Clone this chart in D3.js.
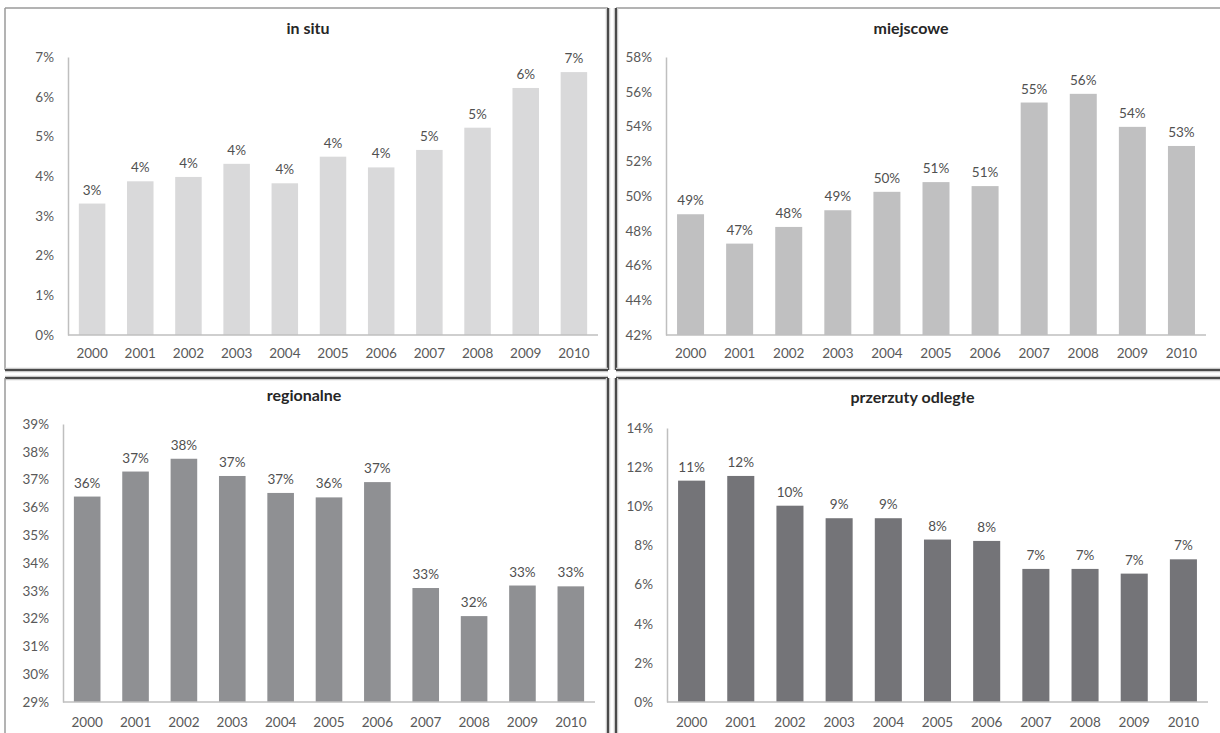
<!DOCTYPE html>
<html>
<head>
<meta charset="utf-8">
<script src="https://cdn.jsdelivr.net/npm/d3@7"></script>
<style>
  body { margin: 0; background: #fff; }
  svg { display: block; font-family: Lato, "Open Sans", sans-serif; }
</style>
</head>
<body>
<div id="chart"></div>
<script>
// lata i wartości (w %)
const years = ['2000', '2001', '2002', '2003', '2004', '2005', '2006', '2007', '2008', '2009', '2010'];
const inSitu = [3.31, 3.87, 3.98, 4.31, 3.82, 4.49, 4.22, 4.66, 5.22, 6.22, 6.62];
const miejscowe = [48.95, 47.26, 48.22, 49.18, 50.24, 50.80, 50.57, 55.38, 55.88, 53.98, 52.88];
const regionalne = [36.39, 37.29, 37.75, 37.13, 36.52, 36.36, 36.91, 33.10, 32.09, 33.19, 33.16];
const przerzuty = [11.31, 11.55, 10.03, 9.39, 9.39, 8.30, 8.23, 6.80, 6.80, 6.56, 7.29];

const ticksInSitu = [0, 1, 2, 3, 4, 5, 6, 7];
const ticksMiejscowe = [42, 44, 46, 48, 50, 52, 54, 56, 58];
const ticksRegionalne = [29, 30, 31, 32, 33, 34, 35, 36, 37, 38, 39];
const ticksPrzerzuty = [0, 2, 4, 6, 8, 10, 12, 14];

const W = 1220, H = 733;

const svg = d3.select('#chart')
    .append('svg')
    .attr('width', W)
    .attr('height', H);

// każdy panel: ramka, obszar wykresu (względem ramki)
const panels = [
    { title: 'in situ', values: inSitu, ticks: ticksInSitu, color: '#d9d9da', outTop: true, outLeft: true,
      x: 5, y: 8, w: 603, h: 362, left: 63, right: 593, top: 49, bottom: 327, titleY: 22, labelY: 345 },
    { title: 'miejscowe', values: miejscowe, ticks: ticksMiejscowe, color: '#c0c0c1', outTop: true, outLeft: false,
      x: 616, y: 8, w: 610, h: 362, left: 50, right: 590, top: 49, bottom: 327, titleY: 22, labelY: 345 },
    { title: 'regionalne', values: regionalne, ticks: ticksRegionalne, color: '#8f9093', outTop: false, outLeft: true,
      x: 5, y: 378, w: 603, h: 362, left: 58, right: 590, top: 46, bottom: 324, titleY: 19, labelY: 344 },
    { title: 'przerzuty odległe', values: przerzuty, ticks: ticksPrzerzuty, color: '#747478', outTop: false, outLeft: false,
      x: 616, y: 378, w: 610, h: 362, left: 51, right: 592, top: 50, bottom: 324, titleY: 21, labelY: 344 }
];

function edge(g, x1, y1, x2, y2, outer) {
    if (!outer) {
        g.append('line')
            .attr('x1', x1).attr('y1', y1).attr('x2', x2).attr('y2', y2)
            .attr('stroke', '#c9c9c9').attr('stroke-width', 4.5);
    }
    g.append('line')
        .attr('x1', x1).attr('y1', y1).attr('x2', x2).attr('y2', y2)
        .attr('stroke', outer ? '#9a9a9a' : '#4a4a4a')
        .attr('stroke-width', outer ? 1.5 : 2);
}

panels.forEach(p => {
    const g = svg.append('g').attr('transform', `translate(${p.x},${p.y})`);

    // ramka
    g.append('rect')
        .attr('width', p.w).attr('height', p.h)
        .attr('fill', '#fff');
    edge(g, 0, 0, p.w, 0, p.outTop);
    edge(g, 0, 0, 0, p.h, p.outLeft);
    edge(g, p.w, 0, p.w, p.h, false);
    edge(g, 0, p.h, p.w, p.h, false);

    const x = d3.scaleBand()
        .domain(years)
        .range([p.left, p.right])
        .paddingInner(0.45)
        .paddingOuter(0.225);

    const y = d3.scaleLinear()
        .domain(d3.extent(p.ticks))
        .range([p.bottom, p.top]);

    // tytuł
    g.append('text')
        .attr('x', (p.left + p.right) / 2 - 25)
        .attr('y', p.titleY)
        .attr('text-anchor', 'middle')
        .attr('dominant-baseline', 'middle')
        .attr('font-size', 16)
        .attr('font-weight', 'bold')
        .attr('fill', '#262626')
        .text(p.title);

    // oś Y
    const yAxis = g.append('g')
        .attr('transform', `translate(${p.left},0)`)
        .call(d3.axisLeft(y).tickValues(p.ticks).tickSize(0).tickPadding(14)
            .tickFormat(d => d + '%'));
    yAxis.select('.domain').attr('stroke', '#bfbfbf').attr('stroke-width', 1.5);
    yAxis.selectAll('text')
        .attr('font-size', 13.5)
        .attr('fill', '#595959')
        .attr('font-family', 'Lato, sans-serif');

    // słupki
    g.selectAll('rect.bar').data(p.values)
        .join('rect')
        .attr('class', 'bar')
        .attr('x', (d, i) => x(years[i]))
        .attr('width', x.bandwidth())
        .attr('y', d => y(d))
        .attr('height', d => p.bottom - y(d))
        .attr('fill', p.color);

    // etykiety danych
    g.selectAll('text.val').data(p.values)
        .join('text')
        .attr('class', 'val')
        .attr('x', (d, i) => x(years[i]) + x.bandwidth() / 2)
        .attr('y', d => y(d) - 9)
        .attr('text-anchor', 'middle')
        .attr('font-size', 13.5)
        .attr('fill', '#505050')
        .text(d => Math.round(d) + '%');

    // oś X
    const xAxis = g.append('g')
        .attr('transform', `translate(0,${p.bottom})`)
        .call(d3.axisBottom(x).tickSize(0).tickPadding(0).tickSizeOuter(0));
    xAxis.select('.domain')
        .attr('stroke', '#bfbfbf').attr('stroke-width', 1.5)
        .attr('d', `M${p.left},0H${p.right}`);
    xAxis.selectAll('text')
        .attr('y', p.labelY - p.bottom)
        .attr('dy', '0.35em')
        .attr('font-size', 13.5)
        .attr('fill', '#595959')
        .attr('font-family', 'Lato, sans-serif');
});
</script>
</body>
</html>
